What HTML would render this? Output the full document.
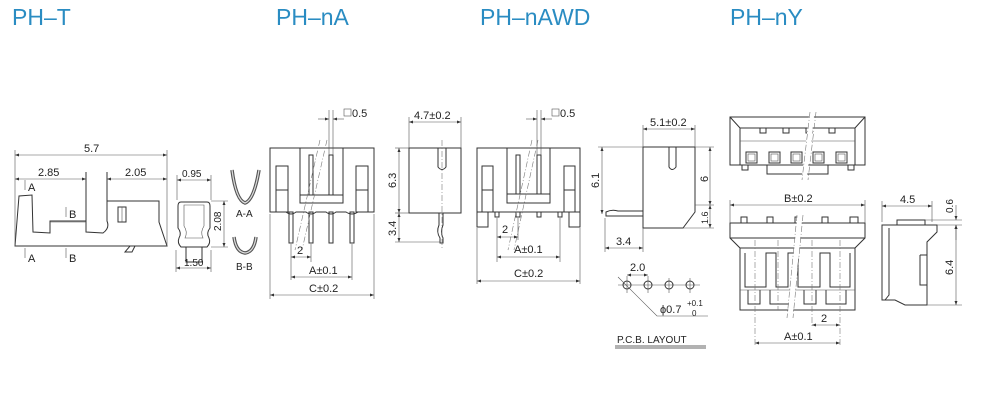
<!DOCTYPE html>
<html><head><meta charset="utf-8"><style>
body{margin:0;background:#fff}
svg{display:block}
.t{font-family:"Liberation Sans",sans-serif;font-size:23px;fill:#2a8cc2}
.d{font-family:"Liberation Sans",sans-serif;font-size:11px;fill:#222}
.l{stroke:#333;stroke-width:1;fill:none}
.f{stroke:#333;stroke-width:1;fill:#fff}
.th{stroke:#555;stroke-width:0.6;fill:none}
.dd{stroke:#777;stroke-width:0.6;fill:none;stroke-dasharray:6 2 1 2}
</style></head><body>
<svg width="989" height="407" viewBox="0 0 989 407" xmlns="http://www.w3.org/2000/svg">
<defs><marker id="a" viewBox="0 0 8 6" refX="8" refY="3" markerWidth="7" markerHeight="5" orient="auto-start-reverse"><path d="M0,0L8,3L0,6z" fill="#333"/></marker></defs>
<text class="t" x="12" y="25">PH–T</text>
<text class="t" x="276" y="25">PH–nA</text>
<text class="t" x="480" y="25">PH–nAWD</text>
<text class="t" x="730" y="25">PH–nY</text>

<!-- PH-T side -->
<g>
<path class="l" d="M15,246 L19,196 L32,195 L33,232 L50,233 L50,221 L86,221 L86,232 L103,233 Q110,228 107,221 L107,201 L159,201 L159,222 L167,246 Z"/>
<path class="l" d="M86,221 L86,172 M107,201 L107,172"/>
<line class="th" x1="50" y1="222" x2="86" y2="222"/>
<rect class="l" x="118" y="207" width="8" height="15"/><line class="th" x1="122" y1="207" x2="122" y2="222"/>
<path class="l" d="M125,252 L130,246 L135,246 L132,252 Z"/>
<line class="th" x1="15" y1="150" x2="15" y2="246"/><line class="th" x1="167" y1="150" x2="167" y2="246"/>
<line class="th" x1="15" y1="155" x2="167" y2="155" marker-start="url(#a)" marker-end="url(#a)"/>
<text class="d" x="84" y="152">5.7</text>
<line class="th" x1="15" y1="179" x2="86" y2="179" marker-start="url(#a)" marker-end="url(#a)"/>
<text class="d" x="38" y="176">2.85</text>
<line class="th" x1="107" y1="179" x2="167" y2="179" marker-start="url(#a)" marker-end="url(#a)"/>
<text class="d" x="125" y="176">2.05</text>
<line class="th" x1="25" y1="180" x2="25" y2="190"/><text class="d" x="28" y="191">A</text>
<line class="th" x1="25" y1="248" x2="25" y2="258"/><text class="d" x="28" y="262">A</text>
<line class="th" x1="66" y1="207" x2="66" y2="217"/><text class="d" x="69" y="218">B</text>
<line class="th" x1="66" y1="248" x2="66" y2="258"/><text class="d" x="69" y="262">B</text>
</g>
<!-- cross-section -->
<g>
<path class="l" d="M181,202 L207,202 Q210,202 210,206 L210,228 Q206,233 209,238 Q211,243 207,247 L181,247 Q177,243 179,238 Q182,233 178,228 L178,206 Q178,202 181,202 Z"/>
<path class="th" d="M184,205 L204,205 L204,226 Q200,232 203,238 L185,238 Q188,232 184,226 Z"/>
<rect class="l" x="186" y="247" width="16" height="15"/>
<line class="th" x1="177" y1="175" x2="177" y2="200"/><line class="th" x1="211" y1="175" x2="211" y2="200"/>
<line class="th" x1="177" y1="180" x2="211" y2="180" marker-start="url(#a)" marker-end="url(#a)"/>
<text class="d" x="182" y="177" style="font-size:10px">0.95</text>
<line class="th" x1="211" y1="201" x2="228" y2="201"/><line class="th" x1="211" y1="247" x2="228" y2="247"/>
<line class="th" x1="224" y1="201" x2="224" y2="247" marker-start="url(#a)" marker-end="url(#a)"/>
<text class="d" x="0" y="0" style="font-size:10px" transform="translate(221,231) rotate(-90)">2.08</text>
<line class="th" x1="176" y1="250" x2="176" y2="272"/><line class="th" x1="211" y1="250" x2="211" y2="272"/>
<line class="th" x1="176" y1="268" x2="211" y2="268" marker-start="url(#a)" marker-end="url(#a)"/>
<text class="d" x="184" y="266" style="font-size:10px">1.50</text>
<path d="M232,170 Q236,200 245,203 Q254,200 259,170" stroke="#555" stroke-width="3.5" fill="none"/>
<path d="M232,170 Q236,200 245,203 Q254,200 259,170" stroke="#ddd" stroke-width="1.2" fill="none"/>
<text class="d" x="236" y="217" style="font-size:10px">A-A</text>
<path d="M234,237 Q236,252 245,253 Q254,252 256,237" stroke="#555" stroke-width="3.5" fill="none"/>
<path d="M234,237 Q236,252 245,253 Q254,252 256,237" stroke="#ddd" stroke-width="1.2" fill="none"/>
<text class="d" x="236" y="270" style="font-size:10px">B-B</text>
</g>

<!-- PH-nA front -->
<g>
<path class="l" d="M270,148 L374,148 L374,212 L358,212 Q352,216 346,212 L336,212 Q331,216 326,212 L316,212 Q311,216 306,212 L296,212 Q291,216 286,212 L270,212 Z"/>
<path class="l" d="M300,148 L300,195 M343,148 L343,195"/>
<rect class="l" x="276" y="166" width="12" height="46"/><line class="l" x1="276" y1="190" x2="288" y2="190"/>
<rect class="l" x="356" y="166" width="12" height="46"/><line class="l" x1="356" y1="190" x2="368" y2="190"/>
<rect class="f" x="300" y="195" width="43" height="8"/>
<g class="l">
<rect x="289" y="212" width="4" height="31"/><rect x="309" y="212" width="4" height="31"/><rect x="329" y="212" width="4" height="31"/><rect x="350" y="212" width="4" height="31"/>
<rect x="309" y="155" width="4" height="40"/><rect x="329" y="155" width="4" height="40"/>
</g>
<path class="dd" d="M320,140 L295,250 M327,140 L302,250"/>
<line class="th" x1="329" y1="110" x2="329" y2="155"/><line class="th" x1="333" y1="110" x2="333" y2="155"/>
<line class="th" x1="318" y1="119" x2="329" y2="119" marker-end="url(#a)"/><line class="th" x1="344" y1="119" x2="333" y2="119" marker-end="url(#a)"/>
<rect x="344" y="109" width="7" height="7" class="th"/><text class="d" x="352" y="117">0.5</text>
<line class="th" x1="291" y1="244" x2="291" y2="280"/><line class="th" x1="311" y1="244" x2="311" y2="262"/><line class="th" x1="352" y1="244" x2="352" y2="280"/>
<line class="th" x1="291" y1="257" x2="311" y2="257" marker-start="url(#a)" marker-end="url(#a)"/><text class="d" x="297" y="254">2</text>
<line class="th" x1="291" y1="277" x2="352" y2="277" marker-start="url(#a)" marker-end="url(#a)"/><text class="d" x="309" y="274">A±0.1</text>
<line class="th" x1="270" y1="214" x2="270" y2="299"/><line class="th" x1="374" y1="214" x2="374" y2="299"/>
<line class="th" x1="270" y1="295" x2="374" y2="295" marker-start="url(#a)" marker-end="url(#a)"/><text class="d" x="309" y="292">C±0.2</text>
</g>
<!-- PH-nA side -->
<g>
<rect class="l" x="409" y="148" width="52" height="65"/>
<path class="l" d="M438,148 L438,167 Q442,172 446,167 L446,148"/>
<path class="l" d="M439,213 L439,225 Q436,232 440,238 L440,243 L443,243 L443,238 Q440,232 443,225 L443,213"/>
<line class="dd" x1="442" y1="140" x2="442" y2="248"/>
<line class="th" x1="409" y1="117" x2="409" y2="148"/><line class="th" x1="461" y1="117" x2="461" y2="148"/>
<line class="th" x1="409" y1="122" x2="461" y2="122" marker-start="url(#a)" marker-end="url(#a)"/><text class="d" x="414" y="119">4.7±0.2</text>
<line class="th" x1="395" y1="148" x2="409" y2="148"/><line class="th" x1="395" y1="213" x2="409" y2="213"/><line class="th" x1="395" y1="242" x2="440" y2="242"/>
<line class="th" x1="399" y1="148" x2="399" y2="213" marker-start="url(#a)" marker-end="url(#a)"/>
<line class="th" x1="399" y1="213" x2="399" y2="242" marker-start="url(#a)" marker-end="url(#a)"/>
<text class="d" transform="translate(396,188) rotate(-90)">6.3</text>
<text class="d" transform="translate(396,236) rotate(-90)">3.4</text>
</g>

<!-- PH-nAWD front -->
<g>
<rect class="l" x="477" y="148" width="103" height="64"/>
<rect class="l" x="477" y="212" width="11" height="15"/><rect class="l" x="569" y="212" width="11" height="15"/>
<path class="l" d="M507,148 L507,195 M550,148 L550,195"/>
<rect class="l" x="482" y="166" width="11" height="46"/><line class="l" x1="482" y1="190" x2="493" y2="190"/>
<rect class="l" x="564" y="166" width="11" height="46"/><line class="l" x1="564" y1="190" x2="575" y2="190"/>
<rect class="f" x="507" y="194" width="43" height="9"/>
<g class="l"><rect x="516" y="155" width="4" height="39"/><rect x="537" y="155" width="4" height="39"/>
<rect x="495" y="212" width="4" height="5"/><rect x="516" y="212" width="4" height="5"/><rect x="537" y="212" width="4" height="5"/><rect x="558" y="212" width="4" height="5"/></g>
<path class="dd" d="M532,140 L508,250 M538,140 L514,250"/>
<line class="th" x1="537" y1="110" x2="537" y2="155"/><line class="th" x1="541" y1="110" x2="541" y2="155"/>
<line class="th" x1="526" y1="119" x2="537" y2="119" marker-end="url(#a)"/><line class="th" x1="552" y1="119" x2="541" y2="119" marker-end="url(#a)"/>
<rect x="552" y="109" width="7" height="7" class="th"/><text class="d" x="560" y="117">0.5</text>
<line class="th" x1="497" y1="218" x2="497" y2="262"/><line class="th" x1="518" y1="218" x2="518" y2="240"/><line class="th" x1="560" y1="218" x2="560" y2="262"/>
<line class="th" x1="497" y1="237" x2="518" y2="237" marker-start="url(#a)" marker-end="url(#a)"/><text class="d" x="502" y="233">2</text>
<line class="th" x1="497" y1="257" x2="560" y2="257" marker-start="url(#a)" marker-end="url(#a)"/><text class="d" x="514" y="253">A±0.1</text>
<line class="th" x1="477" y1="228" x2="477" y2="284"/><line class="th" x1="580" y1="228" x2="580" y2="284"/>
<line class="th" x1="477" y1="281" x2="580" y2="281" marker-start="url(#a)" marker-end="url(#a)"/><text class="d" x="514" y="277">C±0.2</text>
</g>
<!-- PH-nAWD side -->
<g>
<path class="l" d="M643,147 L695,147 L695,212 L683,228 L643,228 Z"/>
<path class="l" d="M669,147 L669,167 Q672,172 676,167 L676,147"/>
<path class="l" d="M643,211 L618,211 Q612,209 606,212 L606,216 L643,216"/>
<line class="th" x1="643" y1="125" x2="643" y2="147"/><line class="th" x1="695" y1="125" x2="695" y2="147"/>
<line class="th" x1="643" y1="129" x2="695" y2="129" marker-start="url(#a)" marker-end="url(#a)"/><text class="d" x="650" y="126">5.1±0.2</text>
<line class="th" x1="598" y1="147" x2="643" y2="147"/>
<line class="th" x1="602" y1="147" x2="602" y2="214" marker-start="url(#a)" marker-end="url(#a)"/>
<text class="d" transform="translate(599,188) rotate(-90)">6.1</text>
<line class="th" x1="695" y1="147" x2="714" y2="147"/><line class="th" x1="695" y1="205" x2="714" y2="205"/><line class="th" x1="683" y1="228" x2="714" y2="228"/>
<line class="th" x1="710" y1="147" x2="710" y2="205" marker-start="url(#a)" marker-end="url(#a)"/>
<line class="th" x1="710" y1="205" x2="710" y2="228" marker-start="url(#a)" marker-end="url(#a)"/>
<text class="d" transform="translate(708,182) rotate(-90)">6</text>
<text class="d" style="font-size:9px" transform="translate(708,224) rotate(-90)">1.6</text>
<line class="th" x1="605" y1="218" x2="605" y2="252"/><line class="th" x1="643" y1="228" x2="643" y2="252"/>
<line class="th" x1="605" y1="248" x2="643" y2="248" marker-start="url(#a)" marker-end="url(#a)"/><text class="d" x="616" y="245">3.4</text>
</g>
<!-- PCB layout -->
<g>
<line class="th" x1="618" y1="285" x2="700" y2="285"/>
<g class="l"><circle cx="627" cy="285" r="4"/><circle cx="648" cy="285" r="4"/><circle cx="669" cy="285" r="4"/><circle cx="690" cy="285" r="4"/></g>
<line class="th" x1="627" y1="276" x2="627" y2="293"/><line class="th" x1="648" y1="276" x2="648" y2="293"/><line class="th" x1="669" y1="278" x2="669" y2="293"/><line class="th" x1="690" y1="278" x2="690" y2="293"/>
<line class="th" x1="627" y1="275" x2="648" y2="275" marker-start="url(#a)" marker-end="url(#a)"/><text class="d" x="630" y="271">2.0</text>
<path class="th" d="M618,277 L657,316 L708,316"/>
<text class="d" x="660" y="313">ϕ0.7</text><text class="d" x="687" y="306" style="font-size:8px">+0.1</text><text class="d" x="692" y="316" style="font-size:8px">0</text>
<text class="d" x="617" y="343" style="font-size:10px">P.C.B. LAYOUT</text>
<line x1="615" y1="346" x2="706" y2="346" stroke="#333" stroke-width="0.8"/><line x1="615" y1="348" x2="706" y2="348" stroke="#333" stroke-width="0.8"/>
</g>

<!-- PH-nY top -->
<g>
<rect class="l" x="730" y="117" width="135" height="48"/>
<path class="l" d="M730,117 L740,128 L855,128 L865,117 M740,128 L740,165 M855,128 L855,165"/>
<line class="th" x1="740" y1="141" x2="855" y2="141"/>
<g class="l"><rect x="760" y="128" width="6" height="5"/><rect x="783" y="128" width="6" height="5"/><rect x="806" y="128" width="6" height="5"/><rect x="829" y="128" width="6" height="5"/></g>
<g class="l"><rect x="746" y="152" width="11" height="11"/><rect x="769" y="152" width="11" height="11"/><rect x="791" y="152" width="11" height="11"/><rect x="813" y="152" width="11" height="11"/><rect x="836" y="152" width="11" height="11"/></g>
<g class="th"><rect x="748" y="154" width="7" height="7"/><rect x="771" y="154" width="7" height="7"/><rect x="793" y="154" width="7" height="7"/><rect x="815" y="154" width="7" height="7"/><rect x="838" y="154" width="7" height="7"/></g>
<rect class="l" x="767" y="165" width="61" height="9"/>
<rect class="l" x="742" y="165" width="6" height="5"/><rect class="l" x="848" y="165" width="6" height="5"/>
<path d="M812,112 L804,180" stroke="#fff" stroke-width="5"/>
<path class="dd" d="M810,112 L802,180 M816,112 L808,180"/>
</g>
<!-- PH-nY front -->
<g>
<path class="l" d="M730,223 L865,223 L865,238 L855,248 L855,310 L740,310 L740,248 L730,238 Z"/>
<line class="l" x1="730" y1="238" x2="865" y2="238"/><line class="l" x1="740" y1="248" x2="855" y2="248"/>
<g class="l"><rect x="741" y="217" width="6" height="6"/><rect x="767" y="217" width="6" height="6"/><rect x="795" y="217" width="6" height="6"/><rect x="822" y="217" width="6" height="6"/><rect x="850" y="217" width="8" height="6"/></g>
<path class="l" d="M745,253 L745,287 L766,287 L766,253 L776,253 L776,287 L788,287 L788,253 L798,253 L798,287 L820,287 L820,253 L830,253 L830,287 L850,287 L850,253"/>
<path class="l" d="M748,290 L748,304 L760,304 L760,290 M770,290 L770,304 L792,304 L792,290 M804,290 L804,304 L816,304 L816,290 M826,290 L826,304 L846,304 L846,290"/>
<line class="th" x1="740" y1="290" x2="855" y2="290"/>
<path d="M800,215 L790,318" stroke="#fff" stroke-width="5"/>
<path class="dd" d="M797,215 L787,318 M803,215 L793,318"/>
<g class="dd"><line x1="755" y1="240" x2="755" y2="346"/><line x1="778" y1="240" x2="778" y2="310"/><line x1="812" y1="240" x2="812" y2="326"/><line x1="840" y1="240" x2="840" y2="346"/></g>
<line class="th" x1="730" y1="200" x2="730" y2="223"/><line class="th" x1="865" y1="200" x2="865" y2="223"/>
<line class="th" x1="730" y1="205" x2="865" y2="205" marker-start="url(#a)" marker-end="url(#a)"/><text class="d" x="784" y="202">B±0.2</text>
<line class="th" x1="812" y1="325" x2="840" y2="325" marker-start="url(#a)" marker-end="url(#a)"/><text class="d" x="821" y="322">2</text>
<line class="th" x1="755" y1="343" x2="840" y2="343" marker-start="url(#a)" marker-end="url(#a)"/><text class="d" x="784" y="340">A±0.1</text>
</g>
<!-- PH-nY side -->
<g>
<path class="l" d="M882,225 L937,225 L937,232 L927,242 L927,305 L905,305 L895,300 L882,300 Z"/>
<rect class="l" x="897" y="220" width="28" height="5"/>
<path class="l" d="M889,228 L889,295 L885,300 M920,255 L927,255 M920,255 L920,285 L927,285"/>
<line class="th" x1="882" y1="201" x2="882" y2="222"/><line class="th" x1="932" y1="201" x2="932" y2="222"/>
<line class="th" x1="882" y1="206" x2="932" y2="206" marker-start="url(#a)" marker-end="url(#a)"/><text class="d" x="900" y="203">4.5</text>
<line class="th" x1="925" y1="220" x2="962" y2="220"/><line class="th" x1="937" y1="225" x2="962" y2="225"/><line class="th" x1="927" y1="305" x2="962" y2="305"/>
<line class="th" x1="956" y1="205" x2="956" y2="220" marker-end="url(#a)"/><line class="th" x1="956" y1="240" x2="956" y2="225" marker-end="url(#a)"/>
<line class="th" x1="956" y1="225" x2="956" y2="305" marker-start="url(#a)" marker-end="url(#a)"/>
<text class="d" style="font-size:10px" transform="translate(953,213) rotate(-90)">0.6</text>
<text class="d" transform="translate(953,275) rotate(-90)">6.4</text>
</g>
</svg>
</body></html>
